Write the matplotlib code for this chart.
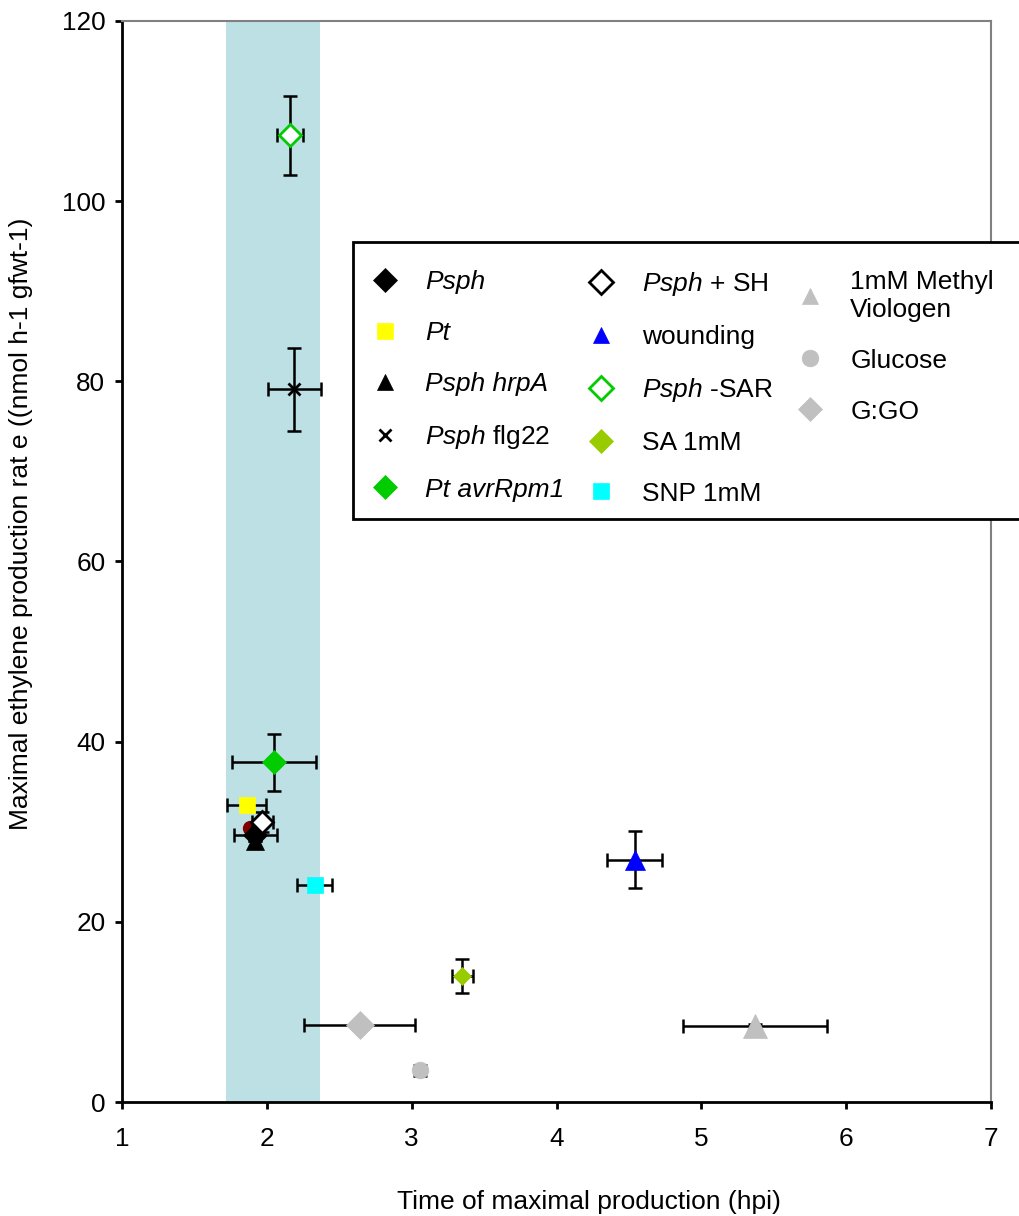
import matplotlib
matplotlib.use("Agg")
import matplotlib.pyplot as plt
from matplotlib.patches import Rectangle

plt.rcParams['font.family'] = ['Liberation Sans', 'DejaVu Sans']
plt.rcParams['mathtext.fontset'] = 'custom'
plt.rcParams['mathtext.rm'] = 'Liberation Sans'
plt.rcParams['mathtext.it'] = 'Liberation Sans:italic'

# data: time of max production (hpi), max ethylene rate
labels = ['Psph', 'Pt', 'Psph hrpA', '$\\it{Psph}$ flg22',
          'Pt avrRpm1', '$\\it{Psph}$ + SH', 'wounding', '$\\it{Psph}$ -SAR',
          'SA 1mM', 'SNP 1mM', '1mM Methyl\nViologen', 'Glucose', 'G:GO']
italic_labels = ['Psph', 'Pt', 'Psph hrpA', 'Pt avrRpm1']
x_vals = [1.92, 1.86, 1.92, 2.19, 2.05, 1.97, 4.54, 2.16, 3.35, 2.33, 5.37, 3.06, 2.64]
y_vals = [29.6, 33.0, 29.0, 79.1, 37.7, 31.1, 26.9, 107.3, 14.0, 24.1, 8.4, 3.5, 8.6]
x_err = [0.15, 0.135, 0.0, 0.185, 0.29, 0.07, 0.19, 0.09, 0.07, 0.12, 0.5, 0.0, 0.38]
y_err = [0.4, 0.0, 0.0, 4.6, 3.15, 1.1, 3.2, 4.4, 1.85, 0.5, 0.3, 0.6, 0.3]

markers = ['D', 's', '^', 'x', 'D', 'D', '^', 'D', 'D', 's', '^', 'o', 'D']
face_cols = ['black', '#ffff00', 'black', 'black', '#00cc00', 'white', '#0000ff', 'white',
             '#99cc00', '#00ffff', '#c0c0c0', '#c0c0c0', '#c0c0c0']
edge_cols = ['black', '#ffff00', 'black', 'black', '#00cc00', 'black', '#0000ff', '#00cc00',
             '#99cc00', '#00ffff', '#c0c0c0', '#c0c0c0', '#c0c0c0']
sizes = [12, 12, 13, 8, 12, 11, 14, 11, 9, 12, 17, 12, 14]

# small dark red point partly hidden under the Psph cluster
hidden_x = [1.885]
hidden_y = [30.4]

band_start, band_end = 1.72, 2.37

fig = plt.figure(figsize=(10.2, 12.16), dpi=100)
ax = fig.add_axes([0.1196, 0.09375, 0.852, 0.889])

ax.axvspan(band_start, band_end, color='#bce0e4', zorder=0, lw=0)

ax.plot(hidden_x, hidden_y, 'o', color='#800000', ms=10, zorder=2)

handles = []
for i in range(len(labels)):
    ax.errorbar(x_vals[i], y_vals[i], xerr=x_err[i], yerr=y_err[i], fmt='none',
                ecolor='black', elinewidth=1.8, capsize=5, capthick=1.8, zorder=2)
    if markers[i] == 'x':
        h, = ax.plot(x_vals[i], y_vals[i], 'x', color='black', ms=sizes[i], mew=2,
                     label=labels[i], zorder=3)
    else:
        mew = 2 if face_cols[i] == 'white' else 0.5
        h, = ax.plot(x_vals[i], y_vals[i], markers[i], mfc=face_cols[i], mec=edge_cols[i],
                     ms=sizes[i], mew=mew, label=labels[i], zorder=3)
    handles.append(h)

ax.set_xlim(1, 7)
ax.set_ylim(0, 120)
ax.set_xticks(range(1, 8))
ax.set_yticks(range(0, 121, 20))

for s in ['left', 'bottom']:
    ax.spines[s].set_color('black')
    ax.spines[s].set_linewidth(2)
for s in ['top', 'right']:
    ax.spines[s].set_color('#808080')
    ax.spines[s].set_linewidth(1.5)

ax.tick_params(axis='both', direction='out', length=5, width=2, labelsize=18.8)
ax.tick_params(axis='x', pad=13)
ax.tick_params(axis='y', pad=7)

ax.set_xlabel('Time of maximal production (hpi)', fontsize=19)
ax.set_ylabel('Maximal ethylene production rat e ((nmol h-1 gfwt-1)', fontsize=19)
ax.xaxis.set_label_coords(0.537, -0.081)
ax.yaxis.set_label_coords(-0.102, 0.535)

# legend box: drawn by hand, it runs off the right edge of the figure
box = Rectangle((353 / 1020, 1 - 519 / 1216), 700 / 1020, 277 / 1216,
                transform=fig.transFigure, facecolor='white', edgecolor='black',
                lw=2, zorder=4.5, clip_on=False)
ax.add_patch(box)

# legend: 5 + 5 + 4 entries (one blank) -> matplotlib puts them in 3 columns
blank = plt.Line2D([], [], linestyle='none', marker='none')
leg_handles = handles + [blank]
leg_labels = labels + ['']
leg = ax.legend(leg_handles, leg_labels, ncol=3, loc='upper left',
                bbox_to_anchor=(365 / 1020, 1 - 270 / 1216), bbox_transform=fig.transFigure,
                borderaxespad=0, borderpad=0, fontsize=19, frameon=False,
                handlelength=1.5, handletextpad=0.78, columnspacing=0.65,
                labelspacing=1.02, numpoints=1)
# top-align the columns so the two-line entry starts on the first row
leg._legend_handle_box.align = 'top'
for lh in leg.legend_handles:
    if lh.get_marker() == 'x':
        lh.set_markersize(8)
    else:
        lh.set_markersize(12)
for t in leg.get_texts():
    if t.get_text() in italic_labels:
        t.set_fontstyle('italic')

fig.savefig('out.png', dpi=100)
